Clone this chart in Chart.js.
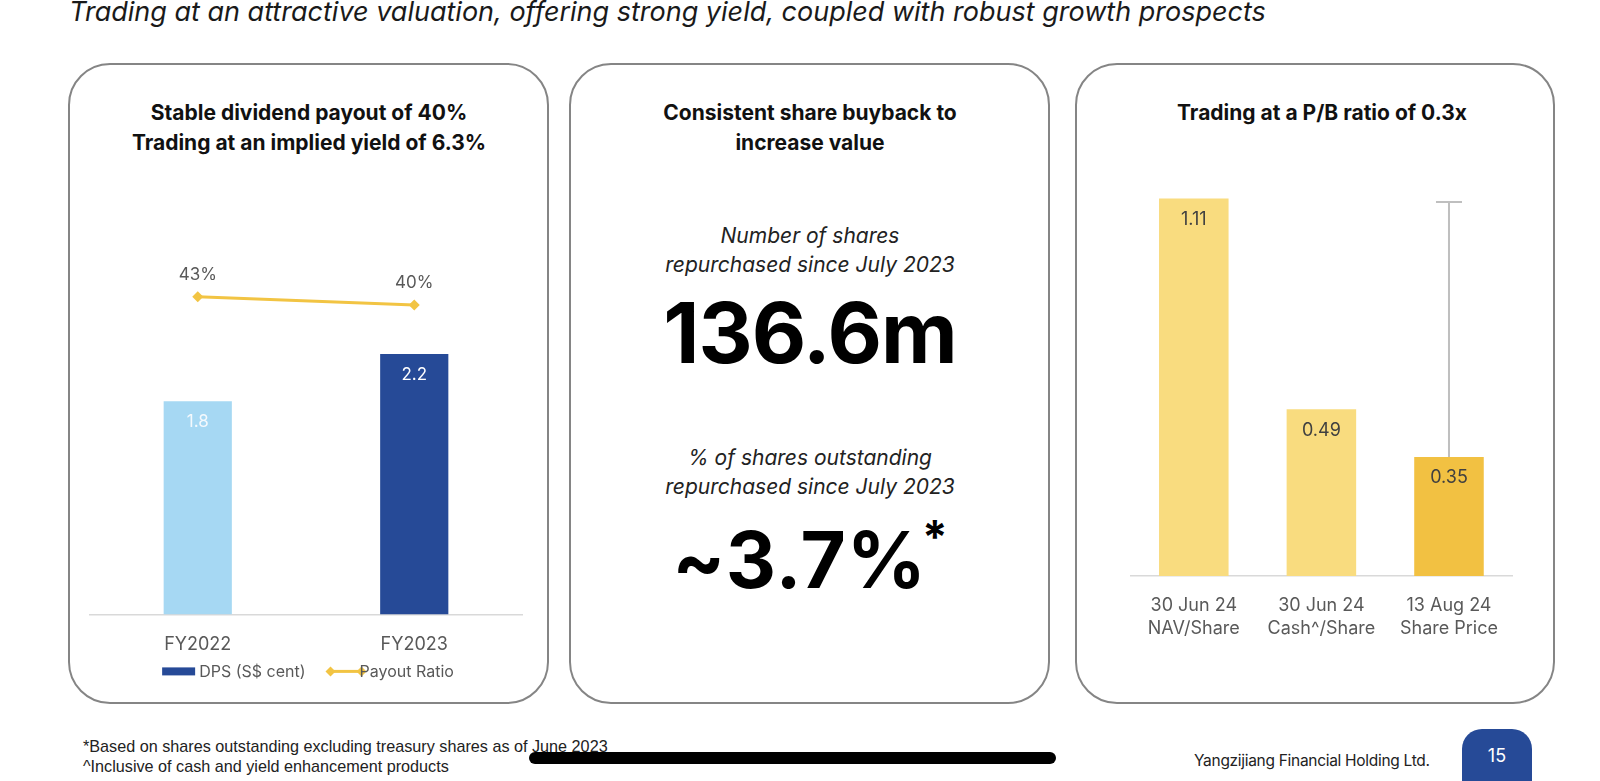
<!DOCTYPE html>
<html>
<head>
<meta charset="utf-8">
<script src="https://cdn.jsdelivr.net/npm/chart.js@4.4.1/dist/chart.umd.min.js"></script>
<style>
  body { margin: 0; background: #fff; font-family: Inter, 'Noto Sans', sans-serif; }
  #page { position: relative; width: 1600px; height: 781px; overflow: hidden; }
  .abs { position: absolute; }
  .headline { left: 69px; top: -6px; font-size: 27px; line-height: 36px; font-style: italic; color: #1a1a1a; white-space: nowrap; }
  .panel { top: 63px; height: 637px; border: 2.5px solid #858585; border-radius: 42px; box-sizing: content-box; }
  .ptitle { text-align: center; font-weight: 700; font-size: 21px; line-height: 30px; color: #111; white-space: nowrap; }
  .sub { text-align: center; font-style: italic; font-size: 21px; line-height: 29px; color: #222; white-space: nowrap; }
  .big { text-align: center; font-weight: 700; color: #000; white-space: nowrap; }
  .foot { font-family: 'Liberation Sans Narrow', 'Liberation Sans', sans-serif; font-size: 16.2px; color: #222; white-space: nowrap; }
</style>
</head>
<body>
<div id="page">
  <div class="abs headline">Trading at an attractive valuation, offering strong yield, coupled with robust growth prospects</div>

  <div class="abs panel" style="left:68px; width:477px;"></div>
  <div class="abs panel" style="left:569px; width:477px;"></div>
  <div class="abs panel" style="left:1075px; width:476px;"></div>

  <div class="abs ptitle" style="left:69px; width:480px; top:98px;">Stable dividend payout of 40%<br>Trading at an implied yield of 6.3%</div>
  <div class="abs ptitle" style="left:570px; width:480px; top:98px;">Consistent share buyback to<br>increase value</div>
  <div class="abs ptitle" style="left:1082px; width:480px; top:98px;">Trading at a P/B ratio of 0.3x</div>

  <div class="abs sub" style="left:570px; width:480px; top:221px;">Number of shares<br>repurchased since July 2023</div>
  <div class="abs big" style="left:570px; width:480px; top:283px; font-size:84px; line-height:100px; letter-spacing:-1px;">136.6m</div>
  <div class="abs sub" style="left:570px; width:480px; top:443px;">% of shares outstanding<br>repurchased since July 2023</div>
  <div class="abs big" style="left:570px; width:480px; top:487px; font-size:78px; line-height:100px; letter-spacing:1px;">~3.7%<span style="font-size:46px; vertical-align:34px; letter-spacing:0; margin-left:-5px;">*</span></div>

  <div class="abs" style="left:84px; top:230px; width:444px; height:460px;"><canvas id="dpsChart"></canvas></div>
  <div class="abs" style="left:1130px; top:160px; width:386px; height:500px;"><canvas id="pbChart"></canvas></div>

  <div class="abs foot" style="left:83px; top:737px;">*Based on shares outstanding excluding treasury shares as of June 2023</div>
  <div class="abs foot" style="left:83px; top:757px;">^Inclusive of cash and yield enhancement products</div>
  <div class="abs" style="left:529px; top:752px; width:527px; height:12px; background:#000; border-radius:6px;"></div>
  <div class="abs" style="left:1194px; top:751px; font-size:15.5px; color:#222; white-space:nowrap; letter-spacing:-0.3px;">Yangzijiang Financial Holding Ltd.</div>
  <div class="abs" style="left:1462px; top:729px; width:70px; height:60px; background:#264A97; border-radius:20px 20px 0 0;"></div>
  <div class="abs" style="left:1462px; top:745px; width:70px; text-align:center; font-size:18px; line-height:22px; color:#fff;">15</div>
</div>

<script>
const dpsCategories = ['FY2022', 'FY2023'];
const dpsValues = [1.8, 2.2];
const payoutValues = [43, 40];

const pbCategories = [['30 Jun 24', 'NAV/Share'], ['30 Jun 24', 'Cash^/Share'], ['13 Aug 24', 'Share Price']];
const pbValues = [1.11, 0.49, 0.35];
const pbGapTop = [null, null, 1.1];

const BLUE_LIGHT = '#A6D8F3';
const BLUE_DARK = '#264A97';
const GOLD = '#F2C443';
const GREY_TEXT = '#595959';
const FONT = 'Inter, "Noto Sans", sans-serif';

Chart.defaults.font.family = FONT;
Chart.defaults.animation = false;

// value labels: each dataset says where its labels go
const valueLabels = {
  id: 'valueLabels',
  afterDatasetsDraw(chart) {
    const { ctx } = chart;
    chart.data.datasets.forEach((ds, i) => {
      const cfg = ds.valueLabel;
      if (!cfg) return;
      const meta = chart.getDatasetMeta(i);
      ctx.save();
      ctx.font = `${cfg.size || 17}px ${FONT}`;
      ctx.textAlign = 'center';
      ctx.textBaseline = 'middle';
      meta.data.forEach((el, j) => {
        ctx.fillStyle = Array.isArray(cfg.color) ? cfg.color[j] : cfg.color;
        ctx.fillText(cfg.format(ds.data[j]), el.x, el.y + cfg.offset);
      });
      ctx.restore();
    });
  }
};

function diamond(ctx, x, y, r) {
  ctx.beginPath();
  ctx.moveTo(x - r, y);
  ctx.lineTo(x, y - r);
  ctx.lineTo(x + r, y);
  ctx.lineTo(x, y + r);
  ctx.closePath();
  ctx.fill();
}

// legend row under the category labels, like the Excel one
const legendRow = {
  id: 'legendRow',
  afterDraw(chart, args, opts) {
    const { ctx, chartArea } = chart;
    const bars = chart.data.datasets[1];
    const line = chart.data.datasets[0];
    const y = chartArea.bottom + opts.offset;
    ctx.save();
    ctx.font = `16px ${FONT}`;
    ctx.textBaseline = 'middle';
    const w1 = ctx.measureText(bars.label).width;
    const w2 = ctx.measureText(line.label).width;
    const total = 33 + 4 + w1 + 20 + 41 - 7 + w2;
    let x = (chartArea.left + chartArea.right) / 2 - total / 2 + opts.shift;

    ctx.fillStyle = BLUE_DARK;
    ctx.fillRect(x, y - 4, 33, 8);
    x += 37;
    ctx.fillStyle = GREY_TEXT;
    ctx.fillText(bars.label, x, y + 1);
    x += w1 + 20;

    ctx.strokeStyle = GOLD;
    ctx.fillStyle = GOLD;
    ctx.lineWidth = 3;
    ctx.beginPath();
    ctx.moveTo(x + 5, y);
    ctx.lineTo(x + 36, y);
    ctx.stroke();
    diamond(ctx, x + 5, y, 5);
    diamond(ctx, x + 36, y, 5);
    x += 34;
    ctx.fillStyle = GREY_TEXT;
    ctx.fillText(line.label, x, y + 1);
    ctx.restore();
  }
};

// grey whisker from the share price bar up to the NAV level
const gapWhisker = {
  id: 'gapWhisker',
  beforeDatasetsDraw(chart) {
    const { ctx } = chart;
    const yScale = chart.scales.y;
    const meta = chart.getDatasetMeta(0);
    ctx.save();
    ctx.strokeStyle = '#BFBFBF';
    ctx.lineWidth = 2;
    pbGapTop.forEach((top, j) => {
      if (top == null) return;
      const bar = meta.data[j];
      const yTop = yScale.getPixelForValue(top);
      ctx.beginPath();
      ctx.moveTo(bar.x, bar.y);
      ctx.lineTo(bar.x, yTop);
      ctx.moveTo(bar.x - 13, yTop);
      ctx.lineTo(bar.x + 13, yTop);
      ctx.stroke();
    });
    ctx.restore();
  }
};

new Chart(document.getElementById('dpsChart'), {
  type: 'bar',
  data: {
    labels: dpsCategories,
    datasets: [
      {
        type: 'line',
        label: 'Payout Ratio',
        data: payoutValues,
        yAxisID: 'y2',
        borderColor: GOLD,
        backgroundColor: GOLD,
        borderWidth: 3,
        pointStyle: 'rectRot',
        pointRadius: 5.5,
        pointBorderWidth: 0,
        order: 0,
        valueLabel: { color: GREY_TEXT, offset: -22, format: (v) => `${v}%` }
      },
      {
        label: 'DPS (S$ cent)',
        data: dpsValues,
        yAxisID: 'y',
        backgroundColor: [BLUE_LIGHT, BLUE_DARK],
        categoryPercentage: 1,
        barPercentage: 0.315,
        order: 1,
        valueLabel: { color: ['#F4F9FD', '#FFFFFF'], offset: 21, format: (v) => v.toFixed(1) }
      }
    ]
  },
  options: {
    responsive: true,
    maintainAspectRatio: false,
    layout: { padding: { top: 5, bottom: 15, left: 0, right: 0 } },
    scales: {
      x: {
        grid: { display: false, drawTicks: false },
        border: { display: true, color: '#D9D9D9', width: 1.5 },
        ticks: { color: GREY_TEXT, font: { size: 18 }, padding: 19.5 }
      },
      y: { display: false, min: 0, max: 3.2 },
      y2: { display: false, min: -76, max: 66 }
    },
    plugins: {
      tooltip: { enabled: false },
      legend: { display: false },
      legendRow: { offset: 57, shift: 2 }
    }
  },
  plugins: [valueLabels, legendRow]
});

new Chart(document.getElementById('pbChart'), {
  type: 'bar',
  data: {
    labels: pbCategories,
    datasets: [{
      label: 'P/B',
      data: pbValues,
      backgroundColor: ['#F9DC7F', '#F9DC7F', '#F2C142'],
      categoryPercentage: 1,
      barPercentage: 0.545,
      valueLabel: { color: '#404040', size: 18, offset: 21, format: (v) => v.toFixed(2) }
    }]
  },
  options: {
    responsive: true,
    maintainAspectRatio: false,
    layout: { padding: { top: 8, bottom: 2, left: 0, right: 0 } },
    scales: {
      x: {
        grid: { display: false, drawTicks: false },
        border: { display: true, color: '#D9D9D9', width: 1.5 },
        ticks: { color: GREY_TEXT, font: { size: 18, lineHeight: 1.28 }, padding: 18, maxRotation: 0, autoSkip: false }
      },
      y: { display: false, min: 0, max: 1.2 }
    },
    plugins: {
      tooltip: { enabled: false },
      legend: { display: false }
    }
  },
  plugins: [valueLabels, gapWhisker]
});
</script>
</body>
</html>
